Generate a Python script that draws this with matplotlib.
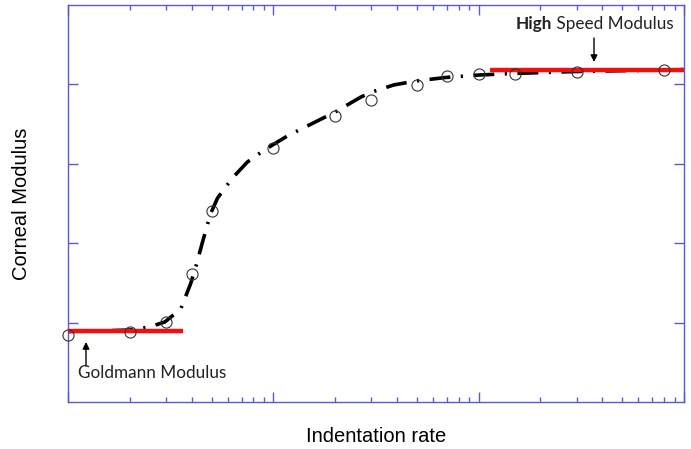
import matplotlib
matplotlib.use("Agg")
import matplotlib.pyplot as plt
from matplotlib.ticker import LogLocator, NullFormatter, FixedLocator

# Measured data points (open circles)
rate_points = [1, 2, 3, 4, 5, 10, 20, 30, 50, 70, 100, 150, 300, 800]
modulus_points = [0.84, 0.88, 1.01, 1.61, 2.41, 3.20, 3.60, 3.80, 3.99, 4.11, 4.13, 4.13, 4.16, 4.18]

# Fitted curve (dash-dot)
curve_rate = [1, 1.43, 2.0, 2.5, 2.96, 3.54, 3.95, 4.23, 4.52, 4.94, 5.35, 6.32, 7.48, 9.04,
              11.7, 15.3, 20.0, 26.7, 30.2, 38.6, 49.4, 69.1, 100, 146, 296, 781, 1000]
curve_modulus = [0.888, 0.894, 0.907, 0.945, 1.008, 1.171, 1.486, 1.738, 2.015, 2.368, 2.569,
                 2.821, 3.023, 3.174, 3.350, 3.501, 3.652, 3.841, 3.904, 3.993, 4.043, 4.087,
                 4.118, 4.137, 4.162, 4.181, 4.188]

# Plateau levels (red)
goldmann_rate = [1, 3.62]
goldmann_level = [0.89, 0.89]
highspeed_rate = [114, 1000]
highspeed_level = [4.18, 4.18]

xlim = [1, 1000]
ylim = [0, 5]
yticks = [1, 2, 3, 4]

spine_color = "#5a5ac8"

fig = plt.figure(figsize=(6.91, 4.49), dpi=100)
ax = fig.add_axes([68/691, 1-402/449, 616/691, 397/449])

ax.plot(curve_rate, curve_modulus, color="black", lw=2.6, dashes=[5.8, 2.9, 0.6, 2.9],
        zorder=3)
ax.plot(goldmann_rate, goldmann_level, color="#f01010", lw=3.2, solid_capstyle="butt", zorder=4)
ax.plot(highspeed_rate, highspeed_level, color="#f01010", lw=3.2, solid_capstyle="butt", zorder=4)
ax.plot(rate_points, modulus_points, linestyle="none", marker="o", ms=8,
        mfc="none", mec="#333333", mew=0.8, zorder=5, clip_on=False)

ax.set_xscale("log")
ax.set_xlim(xlim)
ax.set_ylim(ylim)
ax.xaxis.set_major_locator(LogLocator(base=10, numticks=10))
ax.xaxis.set_minor_locator(LogLocator(base=10, subs=range(2, 10), numticks=20))
ax.xaxis.set_major_formatter(NullFormatter())
ax.xaxis.set_minor_formatter(NullFormatter())
ax.yaxis.set_major_locator(FixedLocator(yticks))
ax.yaxis.set_major_formatter(NullFormatter())

for s in ax.spines.values():
    s.set_color(spine_color)
    s.set_linewidth(1.0)
ax.tick_params(which="both", direction="in", top=True, right=True, color=spine_color, width=1.0)
ax.tick_params(which="major", length=7.2)
ax.tick_params(which="minor", length=3.6)

fig.text(376/691, 1-436/449, "Indentation rate", ha="center", va="center",
         family="Liberation Sans", fontsize=14.5)
fig.text(22/691, 1-204/449, "Corneal Modulus", ha="center", va="center", rotation=90,
         family="Liberation Sans", fontsize=14.5)

afont = "Lato"
asize = 12.3
ax.annotate("", xy=((86-68)/616, (402-342)/397), xytext=((86-68)/616, (402-366)/397),
            xycoords="axes fraction", textcoords="axes fraction",
            arrowprops=dict(arrowstyle="-|>", color="black", lw=1.0, mutation_scale=10,
                            shrinkA=0, shrinkB=0))
ax.text((77.5-68)/616, (402-373)/397, "Goldmann Modulus", transform=ax.transAxes,
        ha="left", va="center", family=afont, fontsize=asize, color="#222222")

ax.annotate("", xy=((594-68)/616, (402-62)/397), xytext=((594-68)/616, (402-38)/397),
            xycoords="axes fraction", textcoords="axes fraction",
            arrowprops=dict(arrowstyle="-|>", color="black", lw=1.0, mutation_scale=10,
                            shrinkA=0, shrinkB=0))
t1 = ax.text((516-68)/616, (402-24)/397, "High", transform=ax.transAxes,
             ha="left", va="center", family=afont, fontsize=asize, fontweight="bold",
             color="#222222")
ax.annotate(" Speed Modulus", xy=(1, 0), xycoords=t1, ha="left", va="bottom",
            family=afont, fontsize=asize, color="#222222")

fig.savefig("out.png", dpi=100)
